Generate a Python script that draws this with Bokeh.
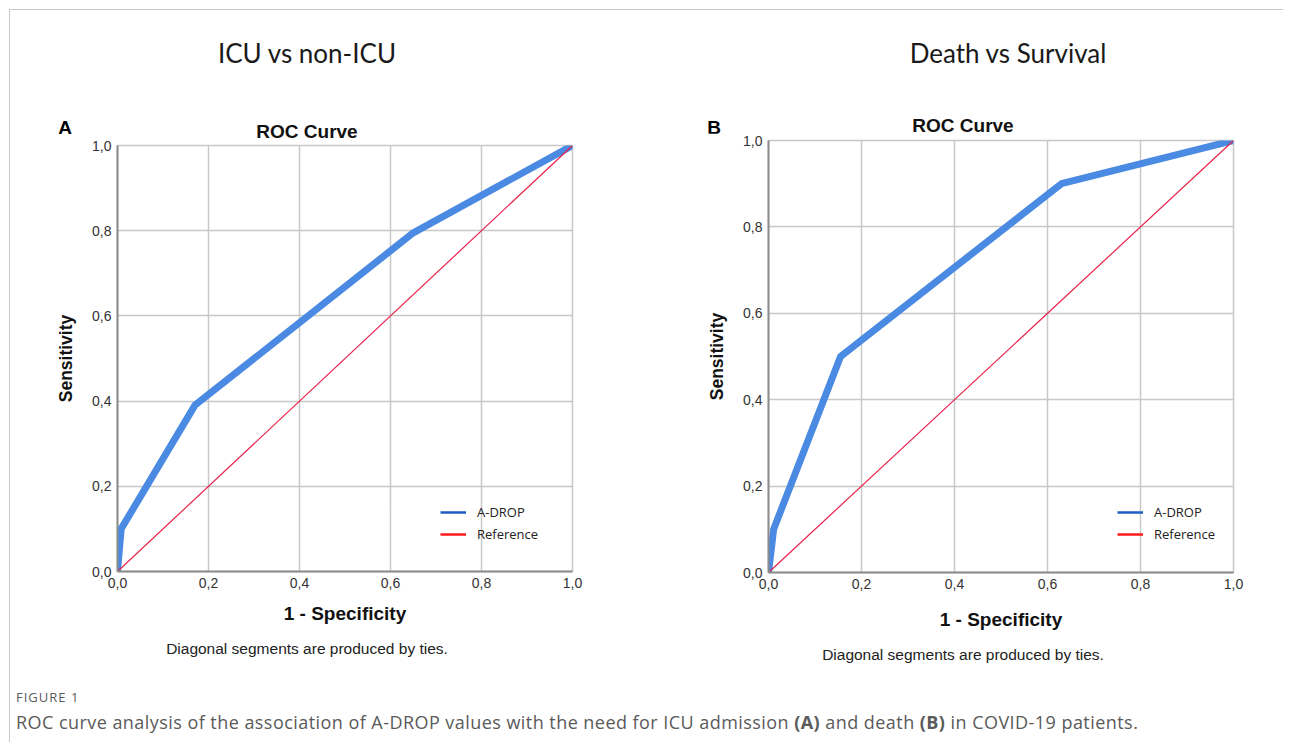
from bokeh.plotting import figure
from bokeh.models import Range1d, FixedTicker, Legend, LegendItem, Div, ColumnDataSource, Spacer
from bokeh.layouts import row, column
from bokeh.embed import file_html
from bokeh.resources import INLINE

# ---------------- data ----------------
tick_values = [0.0, 0.2, 0.4, 0.6, 0.8, 1.0]
tick_labels = ["0,0", "0,2", "0,4", "0,6", "0,8", "1,0"]

icu_fpr = [0.0, 0.008, 0.17, 0.65, 1.0]
icu_tpr = [0.0, 0.10, 0.39, 0.795, 1.0]

death_fpr = [0.0, 0.011, 0.155, 0.63, 1.0]
death_tpr = [0.0, 0.10, 0.50, 0.90, 1.0]

ref_x = [0.0, 1.0]
ref_y = [0.0, 1.0]

headers = ["ICU vs non-ICU", "Death vs Survival"]
letters = ["A", "B"]
series_names = ["A-DROP", "Reference"]
chart_title = "ROC Curve"
note_text = "Diagonal segments are produced by ties."
fig_label = "FIGURE 1"

BLUE = "#4a8ae2"
BLUE_LEG = "#1f5cc4"
RED = "#e8214c"
RED_LEG = "#ff1a1a"
SPSS_FONT = "Liberation Sans"
UI_FONT = "Open Sans"
HEAD_FONT = "Lato"

NAN = float("nan")


def abs_text(text, cx, cy, css):
    return ("<div style=\"position:absolute;left:%dpx;top:%dpx;transform:translate(-50%%,-50%%);"
            "white-space:nowrap;line-height:1;%s\">%s</div>" % (cx, cy, css, text))


def box(children, w, h):
    return "<div style='position:relative;width:%dpx;height:%dpx;'>%s</div>" % (w, h, "".join(children))


def make_panel(fpr, tpr, frame_w, frame_h, left, right, top, bottom, xlabel_standoff, legend_loc):
    width = left + frame_w + right
    height = top + frame_h + bottom
    p = figure(width=width, height=height, frame_width=frame_w, frame_height=frame_h,
               min_border_left=left, min_border_right=right,
               min_border_top=top, min_border_bottom=bottom,
               x_range=Range1d(0, 1), y_range=Range1d(0, 1),
               output_backend="svg", toolbar_location=None, tools="")
    p.background_fill_color = "white"
    p.border_fill_color = "white"
    p.outline_line_color = "#c8c8c8"
    p.outline_line_width = 1.5

    for ax, lab in ((p.xaxis, "1 - Specificity"), (p.yaxis, "Sensitivity")):
        ax.ticker = FixedTicker(ticks=tick_values)
        ax.major_label_overrides = dict(zip(tick_values, tick_labels))
        ax.axis_label = lab
        ax.axis_label_text_font = SPSS_FONT
        ax.axis_label_text_font_style = "bold"
        ax.axis_label_text_color = "#111111"
        ax.major_label_text_font = SPSS_FONT
        ax.major_label_text_font_size = "14px"
        ax.major_label_text_color = "#333333"
        ax.axis_line_color = "#8c8c8c"
        ax.axis_line_width = 2
        ax.major_tick_line_color = None
        ax.minor_tick_line_color = None
        ax.major_tick_out = 0
        ax.major_tick_in = 0
        ax.minor_tick_out = 0
        ax.minor_tick_in = 0
    p.xaxis.axis_label_text_font_size = "19px"
    p.yaxis.axis_label_text_font_size = "17.5px"
    p.xaxis.major_label_standoff = 6
    p.yaxis.major_label_standoff = 6
    p.xaxis.axis_label_standoff = xlabel_standoff
    p.yaxis.axis_label_standoff = 13

    for g in (p.xgrid, p.ygrid):
        g.ticker = FixedTicker(ticks=tick_values)
        g.grid_line_color = "#c8c8c8"
        g.grid_line_width = 1.5

    p.line(fpr, tpr, line_color=BLUE, line_width=7, line_join="round", line_cap="round")
    p.line(ref_x, ref_y, line_color=RED, line_width=1.2)

    # legend (SPSS legend uses thin, darker line samples)
    s1 = ColumnDataSource(data=dict(x=[NAN], y=[NAN]))
    s2 = ColumnDataSource(data=dict(x=[NAN], y=[NAN]))
    r1 = p.line("x", "y", source=s1, line_color=BLUE_LEG, line_width=2.5)
    r2 = p.line("x", "y", source=s2, line_color=RED_LEG, line_width=2.5)
    leg = Legend(items=[LegendItem(label=series_names[0], renderers=[r1]),
                        LegendItem(label=series_names[1], renderers=[r2])],
                 location=legend_loc, orientation="vertical",
                 border_line_color=None, background_fill_alpha=0,
                 padding=0, margin=0, spacing=2, glyph_width=26, glyph_height=20,
                 label_height=20, label_standoff=11,
                 label_text_font=UI_FONT, label_text_font_size="13px",
                 label_text_color="#222222")
    p.add_layout(leg)
    return p


HEAD_CSS = "font-family:'%s';font-size:26px;color:#1a1a1a;" % HEAD_FONT
LETTER_CSS = "font-family:'%s';font-size:19px;font-weight:bold;color:#000;" % SPSS_FONT
TITLE_CSS = "font-family:'%s';font-size:19px;font-weight:bold;color:#111;" % SPSS_FONT
NOTE_CSS = "font-family:'%s';font-size:15.5px;color:#222;" % SPSS_FONT

# ---- panel A (column origin x = 10, y = 10) ----
topA = Div(text=box([abs_text(headers[0], 297, 43, HEAD_CSS),
                     abs_text(letters[0], 55, 117, LETTER_CSS),
                     abs_text(chart_title, 297, 121, TITLE_CSS)], 637, 128),
           width=637, height=128, margin=0)
pA = make_panel(icu_fpr, icu_tpr, frame_w=455, frame_h=426, left=107, right=75,
                top=7, bottom=59, xlabel_standoff=12, legend_loc=(323, 27))
noteA = Div(text=box([abs_text(note_text, 297, 19, NOTE_CSS)], 637, 46),
            width=637, height=46, margin=0)

# ---- panel B (column origin x = 647, y = 10) ----
topB = Div(text=box([abs_text(headers[1], 361, 43, HEAD_CSS),
                     abs_text(letters[1], 67, 117, LETTER_CSS),
                     abs_text(chart_title, 316, 115, TITLE_CSS)], 636, 123),
           width=636, height=123, margin=0)
pB = make_panel(death_fpr, death_tpr, frame_w=465, frame_h=432, left=121, right=50,
                top=7, bottom=58, xlabel_standoff=17, legend_loc=(349, 28))
noteB = Div(text=box([abs_text(note_text, 316, 23, NOTE_CSS)], 636, 46),
            width=636, height=46, margin=0)

caption = Div(text=(
    "<div style=\"font-family:'Open Sans';color:#5a5a5a;padding-left:6px;\">"
    "<div style='font-size:13px;letter-spacing:1px;line-height:16px;margin-top:11px;'>%s</div>"
    "<div style='font-size:18px;letter-spacing:0.45px;line-height:22px;margin-top:6px;'>"
    "ROC curve analysis of the association of A-DROP values with the need for ICU "
    "admission <b>(A)</b> and death <b>(B)</b> in COVID-19 patients.</div></div>" % fig_label),
    width=1273, height=64, margin=0)

panels = row(column(topA, pA, noteA), column(topB, pB, noteB))
inner = column(panels, caption,
               styles={"border-left": "1px solid #c8c8c8", "border-top": "1px solid #c8c8c8"})
layout = column(Spacer(height=9), row(Spacer(width=9), inner))

open("out.html", "w").write(file_html(layout, INLINE))
